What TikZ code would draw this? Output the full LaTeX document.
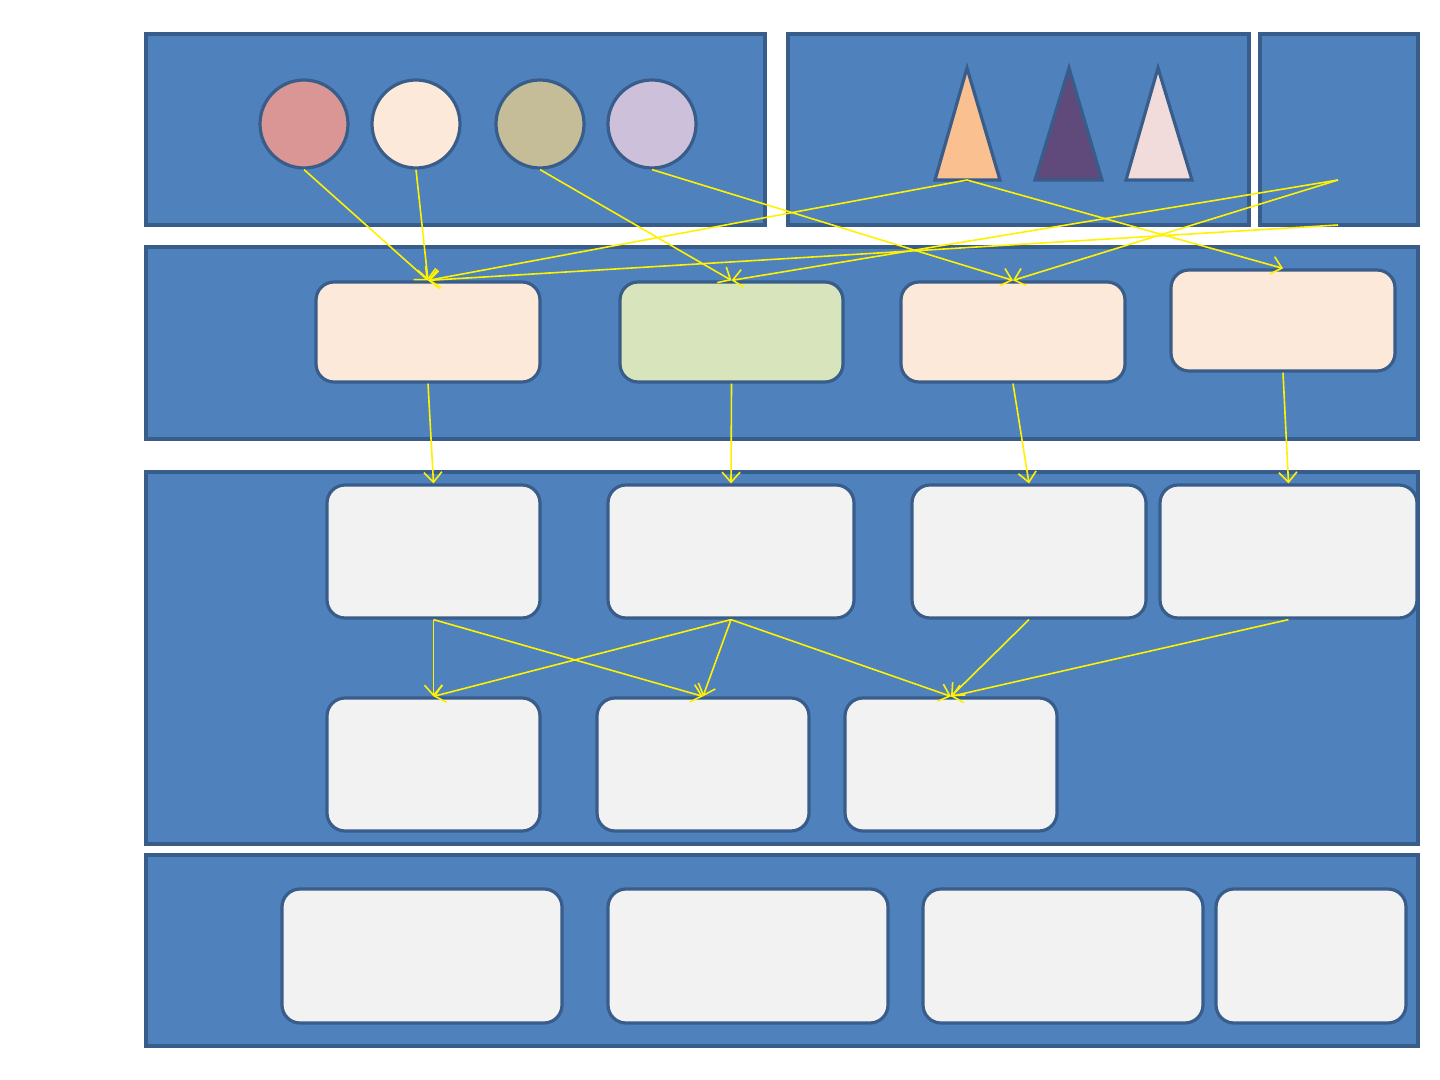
\documentclass[tikz,border=0pt]{standalone}
\usepackage{tikz}
\usetikzlibrary{arrows.meta,positioning}
\definecolor{panelblue}{HTML}{4F81BD}
\definecolor{edgeblue}{HTML}{385D8A}
\definecolor{rose}{HTML}{DA9694}
\definecolor{peach}{HTML}{FDE9D9}
\definecolor{khaki}{HTML}{C4BD97}
\definecolor{lilac}{HTML}{CCC0DA}
\definecolor{apricot}{HTML}{FAC090}
\definecolor{plum}{HTML}{604A7B}
\definecolor{blush}{HTML}{F2DCDB}
\definecolor{sage}{HTML}{D8E4BC}
\definecolor{paper}{HTML}{F2F2F2}
\begin{document}
\begin{tikzpicture}[x=0.5pt,y=-0.5pt,
    panel/.style={rectangle,draw=edgeblue,fill=panelblue,line width=1.6pt,inner sep=0},
    o/.style={circle,draw=edgeblue,line width=1.6pt,minimum size=44pt,inner sep=0},
    box/.style={rectangle,rounded corners=9pt,draw=edgeblue,line width=1.6pt,inner sep=0},
    tri/.style={draw=edgeblue,line width=1.6pt,line join=miter},
    e/.style={draw=yellow,line width=0.8pt,-{Straight Barb[length=5pt,width=9pt]}}]
    \useasboundingbox (0,0) rectangle (1440,1080);
    % panels
    \node[panel,minimum width=309.5pt,minimum height=95.5pt] (p1) at (455.5,129.5) {};
    \node[panel,minimum width=230.5pt,minimum height=95.5pt] (p2) at (1018.5,129.5) {};
    \node[panel,minimum width=79pt,minimum height=95.5pt] (p3) at (1339,129.5) {};
    \node[panel,minimum width=636pt,minimum height=96pt] (p4) at (782,343) {};
    \node[panel,minimum width=636pt,minimum height=186pt] (p5) at (782,658) {};
    \node[panel,minimum width=636pt,minimum height=95.5pt] (p6) at (782,950.5) {};
    % sources
    \node[o,fill=rose] (o1) at (304,124) {};
    \node[o,fill=peach] (o2) at (416,124) {};
    \node[o,fill=khaki] (o3) at (540,124) {};
    \node[o,fill=lilac] (o4) at (652,124) {};
    \draw[tri,fill=apricot] (967,68) -- (1000,180) -- (935,180) -- cycle;
    \draw[tri,fill=plum] (1069,68) -- (1102,180) -- (1035,180) -- cycle;
    \draw[tri,fill=blush] (1158,68) -- (1192,180) -- (1126,180) -- cycle;
    \coordinate (t1) at (967,180);
    \coordinate (r1) at (1338,180);
    \coordinate (r2) at (1338,225);
    % second row
    \node[box,fill=peach,minimum width=112pt,minimum height=50pt] (a1) at (428,332) {};
    \node[box,fill=sage,minimum width=111.5pt,minimum height=50pt] (a2) at (731.5,332) {};
    \node[box,fill=peach,minimum width=112pt,minimum height=50pt] (a3) at (1013,332) {};
    \node[box,fill=peach,minimum width=112pt,minimum height=50.5pt] (a4) at (1283,320.5) {};
    % third row
    \node[box,fill=paper,minimum width=106.5pt,minimum height=66.5pt] (b1) at (433.5,551.5) {};
    \node[box,fill=paper,minimum width=123pt,minimum height=66.5pt] (b2) at (731,551.5) {};
    \node[box,fill=paper,minimum width=117pt,minimum height=66.5pt] (b3) at (1029,551.5) {};
    \node[box,fill=paper,minimum width=128.5pt,minimum height=66.5pt] (b4) at (1288.5,551.5) {};
    % fourth row
    \node[box,fill=paper,minimum width=106.5pt,minimum height=66.5pt] (c1) at (433.5,764.5) {};
    \node[box,fill=paper,minimum width=106pt,minimum height=66.5pt] (c2) at (703,764.5) {};
    \node[box,fill=paper,minimum width=106pt,minimum height=66.5pt] (c3) at (951,764.5) {};
    % bottom row
    \node[box,fill=paper,minimum width=140pt,minimum height=67pt] (d1) at (422,956) {};
    \node[box,fill=paper,minimum width=140pt,minimum height=67pt] (d2) at (748,956) {};
    \node[box,fill=paper,minimum width=140pt,minimum height=67pt] (d3) at (1063,956) {};
    \node[box,fill=paper,minimum width=95pt,minimum height=67pt] (d4) at (1311,956) {};
    % links
    \draw[e] (o1.south) -- (a1.north);
    \draw[e] (o2.south) -- (a1.north);
    \draw[e] (o3.south) -- (a2.north);
    \draw[e] (o4.south) -- (a3.north);
    \draw[e] (t1) -- (a1.north);
    \draw[e] (t1) -- (a4.north);
    \draw[e] (r1) -- (a2.north);
    \draw[e] (r1) -- (a3.north);
    \draw[e] (r2) -- (a1.north);
    \draw[e] (a1.south) -- (b1.north);
    \draw[e] (a2.south) -- (b2.north);
    \draw[e] (a3.south) -- (b3.north);
    \draw[e] (a4.south) -- (b4.north);
    \draw[e] (b1.south) -- (c1.north);
    \draw[e] (b1.south) -- (c2.north);
    \draw[e] (b2.south) -- (c1.north);
    \draw[e] (b2.south) -- (c2.north);
    \draw[e] (b2.south) -- (c3.north);
    \draw[e] (b3.south) -- (c3.north);
    \draw[e] (b4.south) -- (c3.north);
\end{tikzpicture}
\end{document}
